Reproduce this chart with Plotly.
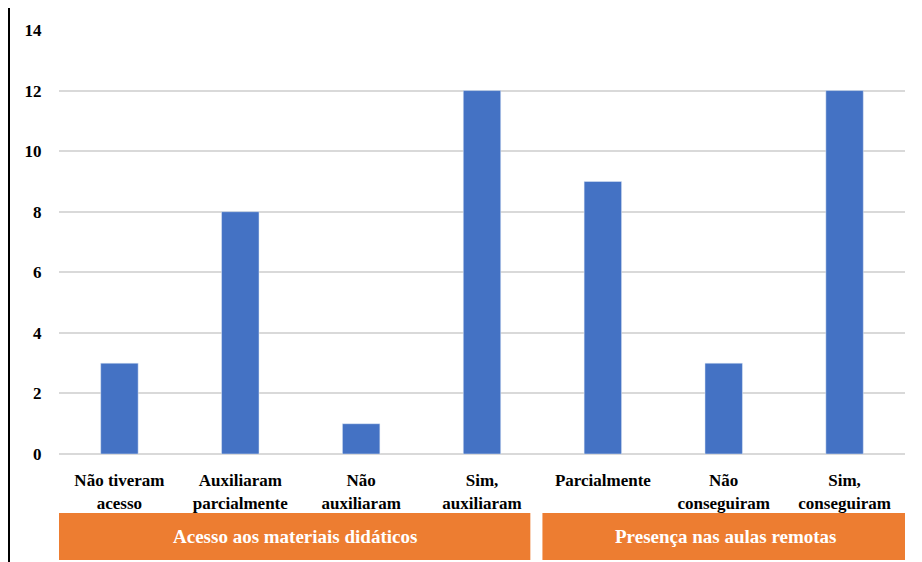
import plotly.graph_objects as go

categories = [
    "Não tiveram<br>acesso",
    "Auxiliaram<br>parcialmente",
    "Não<br>auxiliaram",
    "Sim,<br>auxiliaram",
    "Parcialmente<br> ",
    "Não<br>conseguiram",
    "Sim,<br>conseguiram",
]
values = [3, 8, 1, 12, 9, 3, 12]
groups = ["Acesso aos materiais didáticos", "Presença nas aulas remotas"]
y_ticks = [0, 2, 4, 6, 8, 10, 12, 14]

SERIF = "Liberation Serif"
BLUE = "#4472C4"
ORANGE = "#ED7D31"

x_idx = list(range(len(categories)))

fig = go.Figure(go.Bar(x=x_idx, y=values, marker_color=BLUE, width=0.31))

fig.update_layout(
    width=922,
    height=562,
    margin=dict(l=59, r=17, t=30, b=108),
    paper_bgcolor="white",
    plot_bgcolor="white",
    showlegend=False,
    font=dict(family=SERIF, size=17, color="#000000", weight="bold"),
)

fig.update_xaxes(
    range=[-0.5, 6.5],
    tickmode="array",
    tickvals=x_idx,
    ticktext=categories,
    tickfont=dict(family=SERIF, size=17, color="#000000", weight="bold"),
    showgrid=False,
    zeroline=False,
    ticks="outside",
    ticklen=11,
    tickcolor="rgba(0,0,0,0)",
)

fig.update_yaxes(
    range=[0, 14],
    tickmode="array",
    tickvals=y_ticks,
    ticktext=[str(t) for t in y_ticks],
    tickfont=dict(family=SERIF, size=17, color="#000000", weight="bold"),
    showgrid=True,
    gridcolor="#D9D9D9",
    gridwidth=1.5,
    zeroline=True,
    zerolinecolor="#D9D9D9",
    zerolinewidth=1.5,
    ticks="outside",
    ticklen=13,
    tickcolor="rgba(0,0,0,0)",
)

# Group header boxes under the category labels
spans = [(-0.5, 3.4), (3.5, 6.53)]
for (x0, x1), label in zip(spans, groups):
    fig.add_shape(
        type="rect", xref="x", yref="paper",
        x0=x0, x1=x1, y0=-0.25, y1=-0.139,
        fillcolor=ORANGE, line=dict(width=0),
    )
    fig.add_annotation(
        xref="x", yref="paper",
        x=(x0 + x1) / 2, y=-0.1945,
        text=label,
        showarrow=False,
        font=dict(family=SERIF, size=19, color="#FFFFFF", weight="bold"),
        xanchor="center", yanchor="middle",
    )

# Vertical rule at the left edge
fig.add_shape(
    type="line", xref="paper", yref="paper",
    x0=-0.0591, x1=-0.0591, y0=-0.26, y1=1.052,
    line=dict(color="black", width=2),
)

fig.write_html("out.html")
